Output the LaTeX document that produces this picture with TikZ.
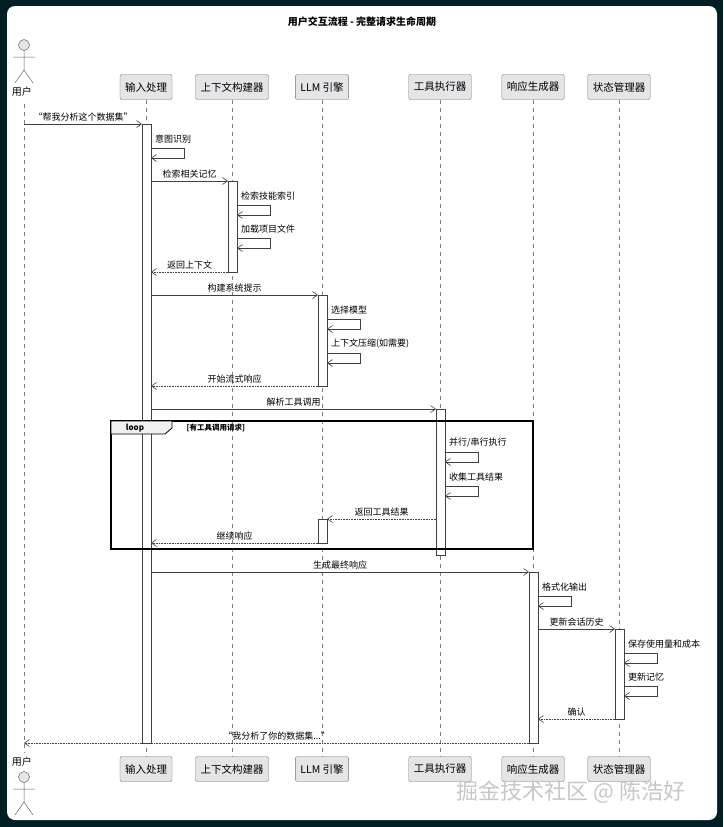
\documentclass[tikz,border=0pt]{standalone}
\usepackage{fontspec}
\setmainfont{Noto Sans CJK SC}
\usetikzlibrary{arrows.meta}
\begin{document}
\begin{tikzpicture}[x=1pt,y=-1pt,
 part/.style={draw=black!55,fill=blue!10!black!10!white,rounded corners=2pt,minimum height=25pt,inner xsep=5pt,font=\fontsize{10.5}{11}\selectfont},
 act/.style={draw=black!75,fill=white,line width=0.6pt},
 life/.style={draw=black!50,dashed,dash pattern=on 4pt off 4pt,line width=0.5pt},
 msg/.style={draw=black!75,line width=0.6pt,-{Straight Barb[length=5pt,width=7pt]}},
 ret/.style={msg,densely dotted},
 lbl/.style={font=\fontsize{9}{9}\selectfont,inner sep=1pt},
 actor/.style={draw=black!60,line width=0.5pt}]
\useasboundingbox (0,0) rectangle (723,827);
\fill[black!85!blue!60!cyan!30!black] (0,0) rectangle (723,827);
\fill[white,rounded corners=8pt] (7,6) rectangle (717,820);
\node[font=\fontsize{10}{10}\selectfont\bfseries] (title) at (362,22) {用户交互流程 - 完整请求生命周期};
% participants
\foreach \n/\x/\t in {a/146/输入处理,b/232/上下文构建器,c/322/LLM 引擎,d/440/工具执行器,e/533/响应生成器,f/619/状态管理器}{
 \node[part] (\n top) at (\x,87) {\t};
 \node[part] (\n bot) at (\x,769) {\t};
 \draw[life] (\n top.south) -- (\n bot.north);
}
\coordinate (utop) at (24,104); \coordinate (ubot) at (24,753);
\draw[life] (utop) -- (ubot);
% actors
\foreach \y/\ly in {45/92, 777/762}{
 \draw[actor,fill=black!10] (24,\y) circle (5.5pt);
 \draw[actor] (24,\y+5.5) -- (24,\y+25) (13,\y+12) -- (35,\y+12) (24,\y+25) -- (15,\y+38) (24,\y+25) -- (33,\y+38);
 \node[font=\fontsize{10}{10}\selectfont] at (22,\ly) {用户};
}
% activations
\draw[act] (142,124) rectangle (151,743);
\draw[act] (228,181) rectangle (237,272);
\draw[act] (318,295) rectangle (327,386);
\draw[act] (436,409) rectangle (445,555);
\draw[act] (318,519) rectangle (327,543);
\draw[act] (529,572) rectangle (538,743);
\draw[act] (615,629) rectangle (624,719);
% loop frame
\draw[black,line width=1.1pt] (111,421) rectangle (533,549);
\draw[black,line width=0.8pt,fill=black!6] (111,421) -- (172,421) -- (172,428) -- (165,434) -- (111,434) -- cycle;
\node[font=\fontsize{8}{8}\selectfont\bfseries] at (135,428) {loop};
\node[font=\fontsize{7.5}{8}\selectfont\bfseries,anchor=west] at (183,428) {[有工具调用请求]};
% messages
\newcommand\selfmsg[4]{\draw[msg] (#1,#2) -- (#1+33,#2) -- (#1+33,#2+10) -- (#1,#2+10);
 \node[lbl,anchor=west] at (#1+3,#2-9) {#4};}
\draw[msg] (utop |- 0,124) -- (142,124) node[lbl,midway,above=1pt] {“帮我分析这个数据集”};
\selfmsg{151}{148}{}{意图识别}
\draw[msg] (151,181) -- (228,181) node[lbl,midway,above=1pt] {检索相关记忆};
\selfmsg{237}{205}{}{检索技能索引}
\selfmsg{237}{238}{}{加载项目文件}
\draw[ret] (228,272) -- (151,272) node[lbl,midway,above=1pt] {返回上下文};
\draw[msg] (151,295) -- (318,295) node[lbl,midway,above=1pt] {构建系统提示};
\selfmsg{327}{319}{}{选择模型}
\selfmsg{327}{353}{}{上下文压缩(如需要)}
\draw[ret] (318,386) -- (151,386) node[lbl,midway,above=1pt] {开始流式响应};
\draw[msg] (151,409) -- (436,409) node[lbl,midway,above=1pt] {解析工具调用};
\selfmsg{445}{452}{}{并行/串行执行}
\selfmsg{445}{486}{}{收集工具结果}
\draw[ret] (436,519) -- (327,519) node[lbl,midway,above=1pt] {返回工具结果};
\draw[ret] (318,543) -- (151,543) node[lbl,midway,above=1pt] {继续响应};
\draw[msg] (151,572) -- (529,572) node[lbl,midway,above=1pt] {生成最终响应};
\selfmsg{538}{596}{}{格式化输出}
\draw[msg] (538,629) -- (615,629) node[lbl,midway,above=1pt] {更新会话历史};
\selfmsg{624}{653}{}{保存使用量和成本}
\selfmsg{624}{686}{}{更新记忆}
\draw[ret] (615,719) -- (538,719) node[lbl,midway,above=1pt] {确认};
\draw[ret] (529,743) -- (24,743) node[lbl,midway,above=1pt] {“我分析了你的数据集...”};
% watermark
\node[font=\fontsize{22}{22}\selectfont,text=black!22] (wm) at (571,792) {掘金技术社区 @ 陈浩好};
\end{tikzpicture}
\end{document}
